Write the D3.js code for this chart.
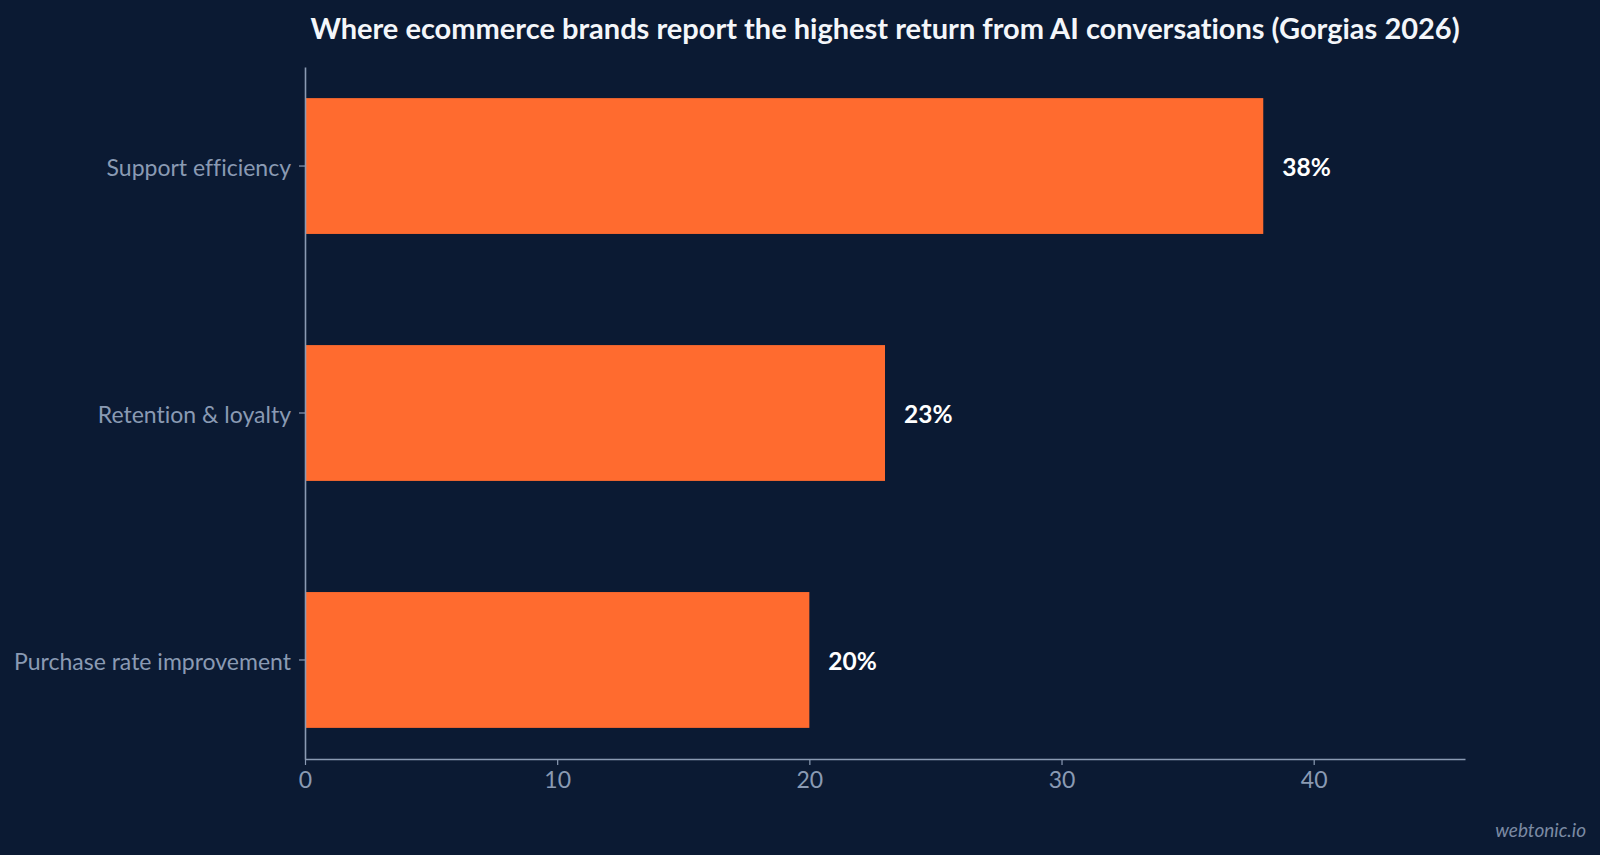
<!DOCTYPE html>
<html>
<head>
<meta charset="utf-8">
<script src="https://cdn.jsdelivr.net/npm/d3@7"></script>
<style>
  html, body { margin: 0; padding: 0; background: #0b1a33; }
  svg { display: block; }
  text {
    font-variant-ligatures: none !important;
    font-feature-settings: "liga" 0, "clig" 0 !important;
  }
</style>
</head>
<body>
<div id="chart"></div>
<script>
const title = 'Where ecommerce brands report the highest return from AI conversations (Gorgias 2026)';
const categories = ['Support efficiency', 'Retention & loyalty', 'Purchase rate improvement'];
const values = [38, 23, 20];
const xTicks = [0, 10, 20, 30, 40];
const xMax = 46;

const width = 1600;
const height = 855;
const margin = { top: 67, right: 135, bottom: 96, left: 305 };

const colors = {
  bg: '#0b1a33',
  bar: '#ff6b2f',
  axis: '#8a9ab3',
  label: '#ffffff',
  title: '#f4f6fa',
  mark: '#7b8aa3'
};

const svg = d3.select('#chart').append('svg')
  .attr('width', width)
  .attr('height', height);

svg.append('rect')
  .attr('width', width)
  .attr('height', height)
  .attr('fill', colors.bg);

const x = d3.scaleLinear()
  .domain([0, xMax])
  .range([margin.left, width - margin.right]);

const y = d3.scaleBand()
  .domain(categories)
  .range([margin.top, height - margin.bottom])
  .paddingInner(0.45)
  .paddingOuter(0.126);

// bars
svg.append('g')
  .selectAll('rect')
  .data(categories)
  .join('rect')
  .attr('x', x(0))
  .attr('y', (d) => y(d))
  .attr('width', (d, i) => x(values[i]) - x(0))
  .attr('height', y.bandwidth())
  .attr('fill', colors.bar);

// value labels
svg.append('g')
  .selectAll('text')
  .data(categories)
  .join('text')
  .attr('x', (d, i) => x(values[i]) + 19)
  .attr('y', (d) => y(d) + y.bandwidth() / 2)
  .attr('dy', '0.42em')
  .attr('fill', colors.label)
  .style('font', '700 24.5px Lato, "Open Sans", sans-serif')
  .text((d, i) => `${values[i]}%`);

// x axis
const xAxis = svg.append('g')
  .attr('transform', `translate(0,${height - margin.bottom})`)
  .call(d3.axisBottom(x).tickValues(xTicks).tickSize(6).tickSizeOuter(0).tickPadding(7));

// y axis
const yAxis = svg.append('g')
  .attr('transform', `translate(${margin.left},0)`)
  .call(d3.axisLeft(y).tickSize(6).tickSizeOuter(0).tickPadding(8));

yAxis.selectAll('.tick text').attr('dy', '0.45em');

[xAxis, yAxis].forEach((g) => {
  g.select('.domain').attr('stroke', colors.axis).attr('stroke-width', 1.6);
  g.selectAll('.tick line').attr('stroke', colors.axis).attr('stroke-width', 1.2);
  g.selectAll('.tick text')
    .attr('fill', colors.axis)
    .style('font', '400 23px Lato, "Open Sans", sans-serif');
});

// title
svg.append('text')
  .attr('x', (x.range()[0] + x.range()[1]) / 2)
  .attr('y', 39)
  .attr('text-anchor', 'middle')
  .attr('fill', colors.title)
  .style('font', '700 29px Lato, "Open Sans", sans-serif')
  .text(title);

// watermark
svg.append('text')
  .attr('x', 1586)
  .attr('y', 837)
  .attr('text-anchor', 'end')
  .attr('fill', colors.mark)
  .style('font', 'italic 400 19px Lato, "Open Sans", sans-serif')
  .text('webtonic.io');
</script>
</body>
</html>
